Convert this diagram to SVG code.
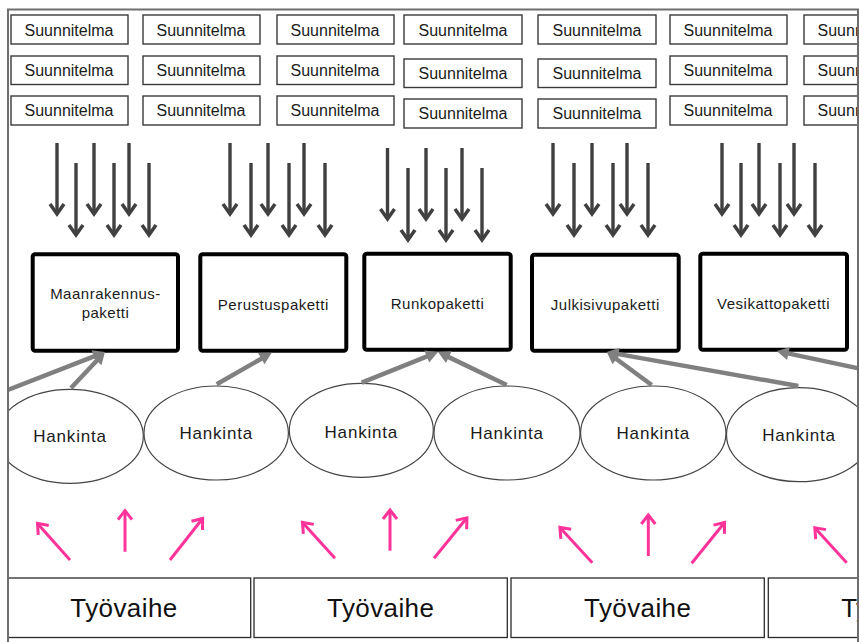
<svg xmlns="http://www.w3.org/2000/svg" width="859" height="642" viewBox="0 0 859 642">
  <defs>
    <style>
      .plan rect { fill: #fff; stroke: #3a3a3a; stroke-width: 1.4; }
      .plan text { font-family: "Liberation Sans", Arial, sans-serif; font-size: 16px; fill: #1a1a1a; text-anchor: middle; }
      .pkg rect { fill: #fff; stroke: #000; stroke-width: 4; }
      .pkg text { font-family: "Liberation Sans", Arial, sans-serif; font-size: 15px; letter-spacing: 0.5px; fill: #1a1a1a; text-anchor: middle; }
      .proc ellipse { fill: #fff; stroke: #444; stroke-width: 1.2; }
      .proc text { font-family: "Liberation Sans", Arial, sans-serif; font-size: 17px; letter-spacing: 0.8px; fill: #1a1a1a; text-anchor: middle; }
      .phase rect { fill: #fff; stroke: #2a2a2a; stroke-width: 1.3; }
      .phase text { font-family: "Liberation Sans", Arial, sans-serif; font-size: 26px; letter-spacing: 0.4px; fill: #111; text-anchor: middle; }
      .feed { stroke: #404040; stroke-width: 3.4; fill: none; marker-end: url(#head-dark); }
      .supply { stroke: #808080; stroke-width: 4.5; fill: none; marker-end: url(#head-gray); }
      .demand { stroke: #ff3399; stroke-width: 3; fill: none; marker-end: url(#head-pink); }
      .frame { fill: none; stroke: #6e6e6e; stroke-width: 2; }
    </style>
    <marker id="head-dark" markerUnits="userSpaceOnUse" markerWidth="30" markerHeight="30" viewBox="-15 -15 30 30" refX="0" refY="0" orient="auto" overflow="visible">
      <path d="M-10,-7 L0,0 L-10,7" fill="none" stroke="#404040" stroke-width="3.5" stroke-linejoin="miter"/>
    </marker>
    <marker id="head-gray" markerUnits="userSpaceOnUse" markerWidth="30" markerHeight="30" viewBox="-15 -15 30 30" refX="0" refY="0" orient="auto" overflow="visible">
      <path d="M-3,-6.5 L9,0 L-3,6.5 Z" fill="#808080"/>
    </marker>
    <marker id="head-pink" markerUnits="userSpaceOnUse" markerWidth="30" markerHeight="30" viewBox="-15 -15 30 30" refX="0" refY="0" orient="auto" overflow="visible">
      <path d="M-9,-7 L0,0 L-9,7" fill="none" stroke="#ff3399" stroke-width="3" stroke-linejoin="miter"/>
    </marker>
    <clipPath id="sheet">
      <rect x="8" y="9" width="850" height="640"/>
    </clipPath>
  </defs>

  <rect x="0" y="0" width="859" height="642" fill="#fff"/>

  <g clip-path="url(#sheet)">
    <!-- plans, three rows per column -->
    <g id="plan-1-1" class="plan"><rect x="11" y="15" width="117" height="29"/><text x="69" y="36">Suunnitelma</text></g>
    <g id="plan-2-1" class="plan"><rect x="11" y="56" width="117" height="28.5"/><text x="69" y="76">Suunnitelma</text></g>
    <g id="plan-3-1" class="plan"><rect x="11" y="96" width="117" height="29"/><text x="69" y="116">Suunnitelma</text></g>

    <g id="plan-1-2" class="plan"><rect x="143" y="15" width="117" height="29"/><text x="201" y="36">Suunnitelma</text></g>
    <g id="plan-2-2" class="plan"><rect x="143" y="56" width="117" height="28.5"/><text x="201" y="76">Suunnitelma</text></g>
    <g id="plan-3-2" class="plan"><rect x="143" y="96" width="117" height="29"/><text x="201" y="116">Suunnitelma</text></g>

    <g id="plan-1-3" class="plan"><rect x="277" y="15" width="117" height="29"/><text x="335" y="36">Suunnitelma</text></g>
    <g id="plan-2-3" class="plan"><rect x="277" y="56" width="117" height="28.5"/><text x="335" y="76">Suunnitelma</text></g>
    <g id="plan-3-3" class="plan"><rect x="277" y="96" width="117" height="29"/><text x="335" y="116">Suunnitelma</text></g>

    <g id="plan-1-4" class="plan"><rect x="404" y="15" width="118" height="29"/><text x="463" y="36">Suunnitelma</text></g>
    <g id="plan-2-4" class="plan"><rect x="404" y="59" width="118" height="28.5"/><text x="463" y="79">Suunnitelma</text></g>
    <g id="plan-3-4" class="plan"><rect x="404" y="99" width="118" height="29"/><text x="463" y="119">Suunnitelma</text></g>

    <g id="plan-1-5" class="plan"><rect x="538" y="15" width="118" height="29"/><text x="597" y="36">Suunnitelma</text></g>
    <g id="plan-2-5" class="plan"><rect x="538" y="59" width="118" height="28.5"/><text x="597" y="79">Suunnitelma</text></g>
    <g id="plan-3-5" class="plan"><rect x="538" y="99" width="118" height="29"/><text x="597" y="119">Suunnitelma</text></g>

    <g id="plan-1-6" class="plan"><rect x="670" y="15" width="117" height="29"/><text x="728" y="36">Suunnitelma</text></g>
    <g id="plan-2-6" class="plan"><rect x="670" y="56" width="117" height="28.5"/><text x="728" y="76">Suunnitelma</text></g>
    <g id="plan-3-6" class="plan"><rect x="670" y="96" width="117" height="29"/><text x="728" y="116">Suunnitelma</text></g>

    <g id="plan-1-7" class="plan"><rect x="804" y="15" width="117" height="29"/><text x="862" y="36">Suunnitelma</text></g>
    <g id="plan-2-7" class="plan"><rect x="804" y="56" width="117" height="28.5"/><text x="862" y="76">Suunnitelma</text></g>
    <g id="plan-3-7" class="plan"><rect x="804" y="96" width="117" height="29"/><text x="862" y="116">Suunnitelma</text></g>

    <!-- work packages -->
    <g id="pkg-maanrakennus" class="pkg">
      <rect x="32.7" y="254.3" width="145.3" height="96.4" rx="2.5"/>
      <text x="105.5" y="299">Maanrakennus-</text>
      <text x="105.5" y="318">paketti</text>
    </g>
    <g id="pkg-perustus" class="pkg">
      <rect x="200.3" y="254.3" width="146" height="96.4" rx="2.5"/>
      <text x="273.3" y="309.5">Perustuspaketti</text>
    </g>
    <g id="pkg-runko" class="pkg">
      <rect x="364.3" y="253.7" width="146.4" height="96" rx="2.5"/>
      <text x="437.5" y="308.5">Runkopaketti</text>
    </g>
    <g id="pkg-julkisivu" class="pkg">
      <rect x="532" y="254.7" width="146.7" height="96" rx="2.5"/>
      <text x="605.3" y="309.5">Julkisivupaketti</text>
    </g>
    <g id="pkg-vesikatto" class="pkg">
      <rect x="700.3" y="253.7" width="146.7" height="96" rx="2.5"/>
      <text x="773.6" y="308.5">Vesikattopaketti</text>
    </g>

    <!-- procurements -->
    <g id="hankinta-1" class="proc"><ellipse cx="70" cy="436.3" rx="73.3" ry="47"/><text x="70" y="442">Hankinta</text></g>
    <g id="hankinta-2" class="proc"><ellipse cx="216.2" cy="433" rx="72.2" ry="47"/><text x="216.2" y="439.3">Hankinta</text></g>
    <g id="hankinta-3" class="proc"><ellipse cx="361.3" cy="430.3" rx="72" ry="47"/><text x="361.3" y="438">Hankinta</text></g>
    <g id="hankinta-4" class="proc"><ellipse cx="507" cy="433" rx="73" ry="47"/><text x="507" y="439.3">Hankinta</text></g>
    <g id="hankinta-5" class="proc"><ellipse cx="653.3" cy="433" rx="72.7" ry="47"/><text x="653.3" y="439.3">Hankinta</text></g>
    <g id="hankinta-6" class="proc"><ellipse cx="799" cy="434.7" rx="72.5" ry="47"/><text x="799" y="441">Hankinta</text></g>

    <!-- work phases -->
    <g id="tyovaihe-1" class="phase"><rect x="-3" y="578" width="253.7" height="59.5"/><text x="124" y="617">Työvaihe</text></g>
    <g id="tyovaihe-2" class="phase"><rect x="254" y="578" width="253.3" height="59.5"/><text x="380.7" y="617">Työvaihe</text></g>
    <g id="tyovaihe-3" class="phase"><rect x="511" y="578" width="253.3" height="59.5"/><text x="637.7" y="617">Työvaihe</text></g>
    <g id="tyovaihe-4" class="phase"><rect x="768.3" y="578" width="253" height="59.5"/><text x="894.8" y="617">Työvaihe</text></g>

    <g id="connectors">
      <!-- plans feeding each package -->
      <g id="feed-maanrakennus">
        <line class="feed" x1="57" y1="143" x2="57" y2="214"/>
        <line class="feed" x1="76" y1="163" x2="76" y2="235"/>
        <line class="feed" x1="94" y1="143" x2="94" y2="214"/>
        <line class="feed" x1="114" y1="163" x2="114" y2="235"/>
        <line class="feed" x1="129" y1="143" x2="129" y2="214"/>
        <line class="feed" x1="149" y1="163" x2="149" y2="235"/>
      </g>
      <g id="feed-perustus">
        <line class="feed" x1="230" y1="143" x2="230" y2="214"/>
        <line class="feed" x1="251" y1="163" x2="251" y2="235"/>
        <line class="feed" x1="268" y1="143" x2="268" y2="214"/>
        <line class="feed" x1="289" y1="163" x2="289" y2="235"/>
        <line class="feed" x1="304" y1="143" x2="304" y2="214"/>
        <line class="feed" x1="325" y1="163" x2="325" y2="235"/>
      </g>
      <g id="feed-runko">
        <line class="feed" x1="387.5" y1="148" x2="387.5" y2="219"/>
        <line class="feed" x1="408" y1="168" x2="408" y2="240"/>
        <line class="feed" x1="426" y1="148" x2="426" y2="219"/>
        <line class="feed" x1="446" y1="168" x2="446" y2="240"/>
        <line class="feed" x1="462" y1="148" x2="462" y2="219"/>
        <line class="feed" x1="482" y1="168" x2="482" y2="240"/>
      </g>
      <g id="feed-julkisivu">
        <line class="feed" x1="553" y1="143" x2="553" y2="214"/>
        <line class="feed" x1="574" y1="163" x2="574" y2="235"/>
        <line class="feed" x1="592" y1="143" x2="592" y2="214"/>
        <line class="feed" x1="613" y1="163" x2="613" y2="235"/>
        <line class="feed" x1="627" y1="143" x2="627" y2="214"/>
        <line class="feed" x1="648" y1="163" x2="648" y2="235"/>
      </g>
      <g id="feed-vesikatto">
        <line class="feed" x1="722" y1="143" x2="722" y2="214"/>
        <line class="feed" x1="741" y1="163" x2="741" y2="235"/>
        <line class="feed" x1="759" y1="143" x2="759" y2="214"/>
        <line class="feed" x1="780" y1="163" x2="780" y2="235"/>
        <line class="feed" x1="794" y1="143" x2="794" y2="214"/>
        <line class="feed" x1="815" y1="163" x2="815" y2="235"/>
      </g>

      <!-- procurements supplying packages -->
      <line class="supply" x1="0" y1="393" x2="96.6" y2="355.3"/>
      <line class="supply" x1="71" y1="388" x2="98.8" y2="358.5"/>
      <line class="supply" x1="216.7" y1="384.3" x2="263.9" y2="357.2"/>
      <line class="supply" x1="361.7" y1="382.7" x2="429.6" y2="355.4"/>
      <line class="supply" x1="506.7" y1="385" x2="446.1" y2="355.9"/>
      <line class="supply" x1="651.7" y1="385" x2="614" y2="357.3"/>
      <line class="supply" x1="798.3" y1="386" x2="615.6" y2="353.6"/>
      <line class="supply" x1="870" y1="370.8" x2="785.5" y2="352.9"/>

      <!-- work phases driving procurements -->
      <line class="demand" x1="70" y1="560" x2="37.5" y2="523.4"/>
      <line class="demand" x1="125" y1="551.7" x2="125" y2="510.6"/>
      <line class="demand" x1="170" y1="560" x2="202.6" y2="518.5"/>
      <line class="demand" x1="335" y1="558.3" x2="302.5" y2="522.4"/>
      <line class="demand" x1="390" y1="550.7" x2="390" y2="510"/>
      <line class="demand" x1="434" y1="558.3" x2="466.9" y2="517.8"/>
      <line class="demand" x1="592.3" y1="562.7" x2="559.9" y2="527.4"/>
      <line class="demand" x1="648.3" y1="556" x2="648.3" y2="515"/>
      <line class="demand" x1="691.7" y1="563.3" x2="724.6" y2="522.5"/>
      <line class="demand" x1="846.7" y1="562.7" x2="814.8" y2="527.7"/>
    </g>
  </g>

  <!-- sheet edges -->
  <path class="frame" d="M8,643 L8,9.5 L858,9.5 L858,643"/>
</svg>
